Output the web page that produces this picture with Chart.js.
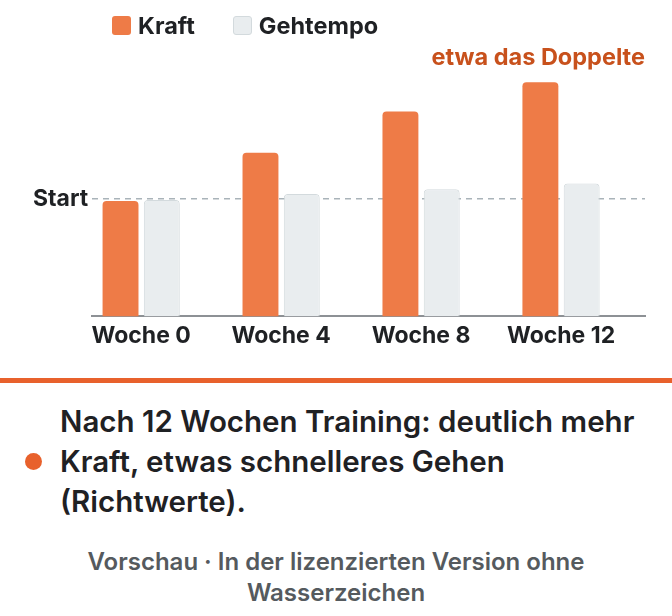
<!DOCTYPE html>
<html lang="de">
<head>
    <meta charset="UTF-8">
    <title>Kraft und Gehtempo</title>
    <style>
        body {
            margin: 0;
            background: #ffffff;
            font-family: Inter, "Noto Sans", sans-serif;
            color: #1f2124;
            width: 672px;
            height: 616px;
            overflow: hidden;
        }
        .chart-box {
            position: relative;
            width: 672px;
            height: 378px;
        }
        .legend {
            position: absolute;
            left: 112px;
            top: 11px;
            display: flex;
            align-items: center;
            font-size: 23.5px;
            font-weight: 700;
        }
        .legend span.item {
            display: flex;
            align-items: center;
            margin-right: 38px;
        }
        .legend i {
            display: inline-block;
            width: 19px;
            height: 19px;
            border-radius: 3px;
            margin-right: 7px;
            box-sizing: border-box;
        }
        .rule {
            height: 5px;
            background: #e8612c;
        }
        .note {
            display: flex;
            align-items: center;
            padding: 18px 20px 0 25px;
        }
        .dot {
            flex: none;
            width: 17px;
            height: 17px;
            border-radius: 50%;
            background: #e8612c;
            margin-right: 18px;
        }
        .note p {
            margin: 0;
            max-width: 590px;
            font-size: 29.5px;
            font-weight: 600;
            line-height: 40px;
        }
        .footer {
            margin-top: 25px;
            text-align: center;
            font-size: 24px;
            font-weight: 600;
            line-height: 31px;
            color: #555a5e;
            padding: 0 40px;
        }
    </style>
</head>
<body>
    <div class="chart-box">
        <canvas id="chart"></canvas>
        <div class="legend" id="legend"></div>
    </div>
    <div class="rule"></div>
    <div class="note">
        <div class="dot"></div>
        <p>Nach 12 Wochen Training: deutlich mehr Kraft, etwas schnelleres Gehen (Richtwerte).</p>
    </div>
    <div class="footer">Vorschau · In der lizenzierten Version ohne Wasserzeichen</div>

    <script src="https://cdn.jsdelivr.net/npm/chart.js"></script>
    <script>
        // Wochen und Richtwerte (Start = 100)
        const weeks = [0, 4, 8, 12];
        const kraft = [98, 139, 174, 199];
        const gehtempo = [99, 104, 108, 113];
        const startValue = 100;
        const note = 'etwa das Doppelte';

        const orange = '#ee7b47';
        const grayFill = '#e9edef';
        const grayBorder = '#d3dadd';

        const annotation = {
            id: 'annotation',
            afterDraw(chart) {
                const ctx = chart.ctx;
                const area = chart.chartArea;
                ctx.save();
                ctx.font = '700 23.5px Inter, sans-serif';
                ctx.fillStyle = '#c8511c';
                ctx.textAlign = 'right';
                ctx.textBaseline = 'middle';
                ctx.fillText(note, area.right, area.top - 23);
                ctx.restore();
            }
        };

        const chart = new Chart(document.getElementById('chart'), {
            type: 'bar',
            data: {
                datasets: [{
                    label: 'Kraft',
                    data: weeks.map((w, i) => ({ x: w, y: kraft[i] })),
                    backgroundColor: orange,
                    borderWidth: 0,
                    borderRadius: 4
                }, {
                    label: 'Gehtempo',
                    data: weeks.map((w, i) => ({ x: w, y: gehtempo[i] })),
                    backgroundColor: grayFill,
                    borderColor: grayBorder,
                    borderWidth: 1,
                    borderRadius: 4
                }]
            },
            options: {
                responsive: true,
                maintainAspectRatio: false,
                animation: false,
                categoryPercentage: 0.59,
                barPercentage: 0.87,
                layout: {
                    padding: { top: 81, left: 29, right: 27, bottom: 22 }
                },
                plugins: {
                    legend: { display: false },
                    tooltip: { enabled: false }
                },
                scales: {
                    x: {
                        type: 'linear',
                        offset: false,
                        min: -1.4,
                        max: 14.4,
                        afterBuildTicks: (scale) => {
                            scale.ticks = weeks.map(w => ({ value: w }));
                        },
                        grid: { display: false, drawTicks: false },
                        border: { display: true, color: '#8d9195', width: 2 },
                        ticks: {
                            padding: 6,
                            color: '#1f2124',
                            font: { family: 'Inter', size: 23, weight: '700' },
                            callback: (v) => 'Woche ' + v
                        }
                    },
                    y: {
                        min: 0,
                        max: 200,
                        afterBuildTicks: (scale) => {
                            scale.ticks = [{ value: startValue }];
                        },
                        grid: { color: '#a9b3b9', lineWidth: 1.5, drawTicks: false },
                        border: { display: false, dash: [6, 5] },
                        ticks: {
                            padding: 4,
                            color: '#1f2124',
                            font: { family: 'Inter', size: 23, weight: '700' },
                            callback: () => 'Start'
                        }
                    }
                }
            },
            plugins: [annotation]
        });

        // Legende aus den Datensätzen
        const legend = document.getElementById('legend');
        chart.data.datasets.forEach(ds => {
            const item = document.createElement('span');
            item.className = 'item';
            const box = document.createElement('i');
            box.style.background = ds.backgroundColor;
            if (ds.borderWidth) box.style.border = ds.borderWidth + 'px solid ' + ds.borderColor;
            item.appendChild(box);
            item.appendChild(document.createTextNode(ds.label));
            legend.appendChild(item);
        });
    </script>
</body>
</html>
